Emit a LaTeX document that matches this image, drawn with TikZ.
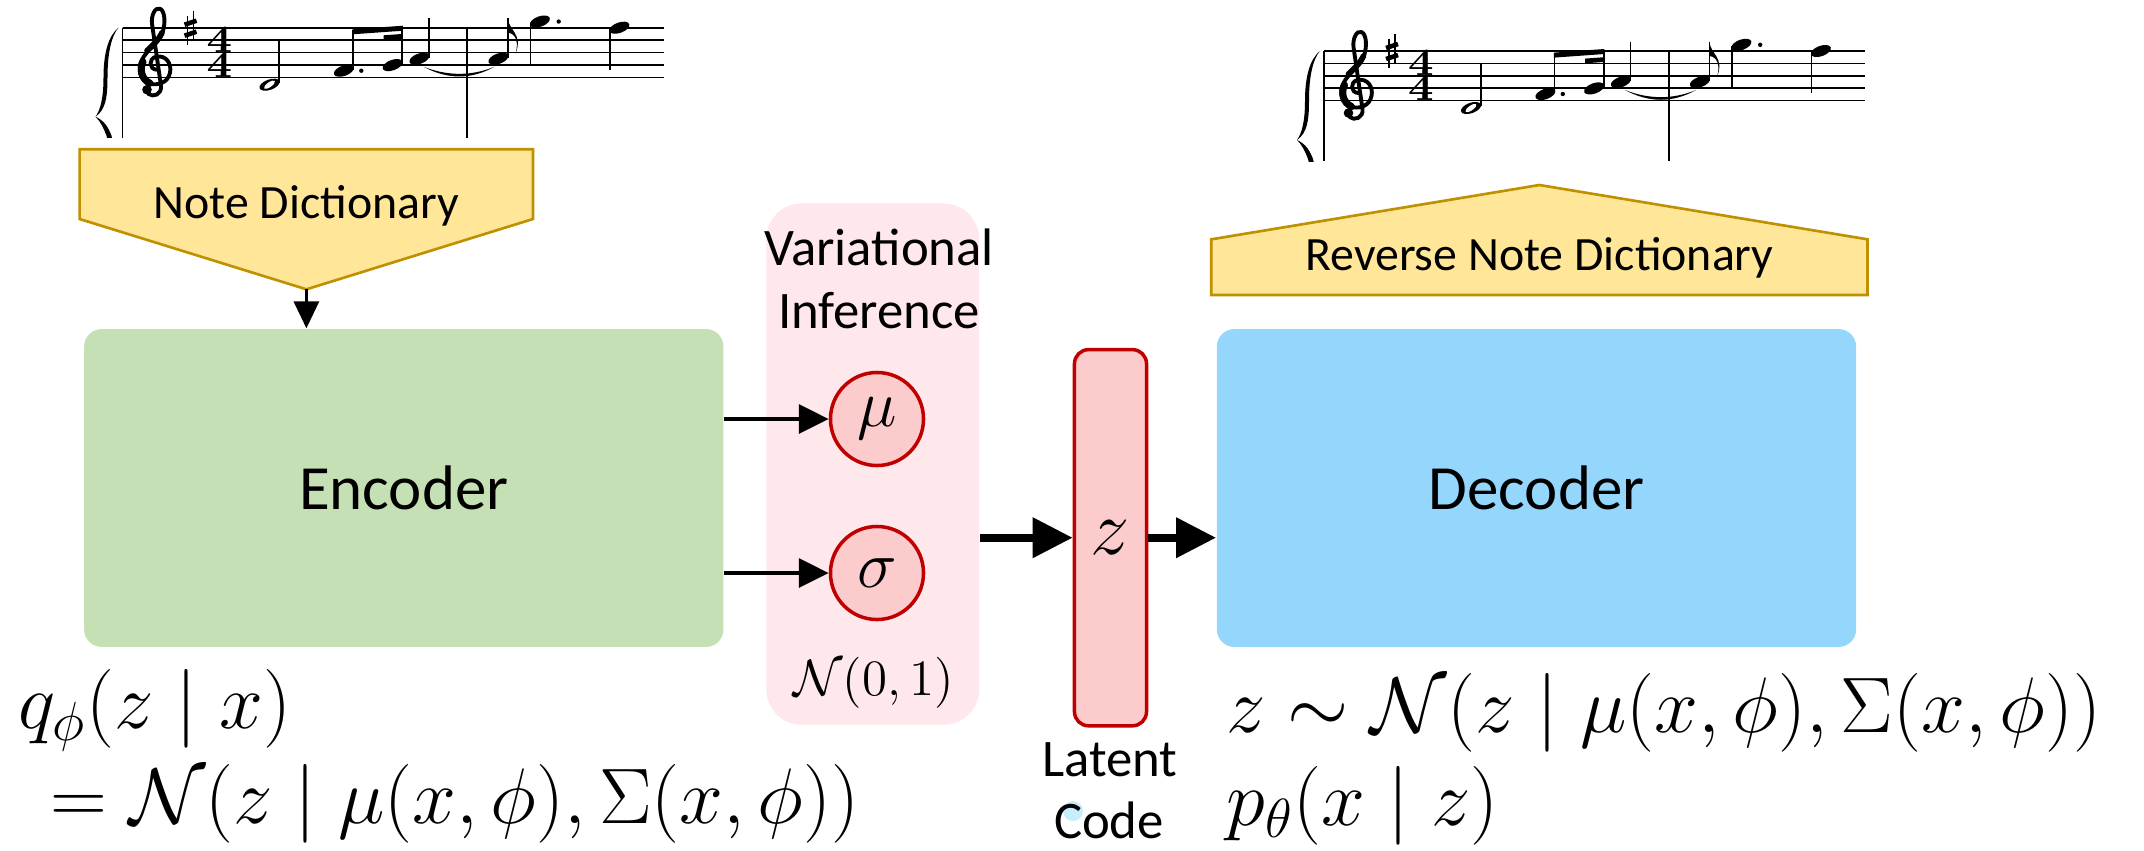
\RequirePackage{fix-cm}
\documentclass[tikz,border=0pt]{standalone}
\usepackage[no-math]{fontspec}
\usepackage{graphicx}
\setmainfont{Carlito}
\usetikzlibrary{arrows.meta}

\definecolor{dictfill}{HTML}{FFE699}
\definecolor{dictline}{HTML}{BF9000}
\definecolor{encfill}{HTML}{C5E0B4}
\definecolor{decfill}{RGB}{148,214,252}
\definecolor{vifill}{HTML}{FEE8EB}
\definecolor{zfill}{HTML}{FCCBCB}
\definecolor{zline}{HTML}{C00000}
\definecolor{dotblue}{HTML}{C8EDFC}

% filled note head, tilted
\newcommand{\nhead}[2]{\fill[rotate around={20:(#1,#2)}] (#1,#2) ellipse (10.5 and 5.2);}
% wide bold digit of the time signature
\newcommand{\tsdigit}{\scalebox{1.15}[1]{$\mathbf{4}$}}

% one staff of the melody; #1 = shift, #2 = name prefix
\newcommand{\musicstaff}[2]{%
\begin{scope}[shift={#1}]
  \foreach \k in {0,...,4} \draw[staffline] (0,{\k*12.4}) -- (541,{\k*12.4});
  \draw[barl] (0,0) -- (0,110);
  \draw[barl] (344.6,0) -- (344.6,110);
  % brace of the system
  \begin{scope}
    \clip (-40,-5) rectangle (-1,110);
    \fill (-4,0) .. controls (-14,8) and (-19,25) .. (-19,50)
          .. controls (-19,70) and (-22,82) .. (-27,89)
          .. controls (-17,82) and (-15,70) .. (-15,50)
          .. controls (-15,25) and (-11,8) .. (-4,0) -- cycle;
    \fill (-4,160) .. controls (-8,140) and (-13,120) .. (-16,108)
          .. controls (-19,100) and (-22,94) .. (-27,89)
          .. controls (-18,93) and (-14,100) .. (-11,108)
          .. controls (-8,120) and (-5,140) .. (-4,160) -- cycle;
  \end{scope}
  % treble clef
  \begin{scope}[shift={(33.5,0)}]
    \draw[line width=1.1pt, line cap=round, line join=round]
      (1,42) .. controls (-7,42) and (-8,31) .. (0,29)
      .. controls (10,27) and (16,36) .. (14,45)
      .. controls (12,55) and (2,58) .. (-6,56)
      .. controls (-16,53) and (-19,41) .. (-14,32)
      .. controls (-9,22) and (2,16) .. (6,6)
      .. controls (10,-4) and (9,-17) .. (4,-19)
      .. controls (-1,-21) and (-5,-12) .. (-4,-4)
      -- (5,58)
      .. controls (6,67) and (-3,70) .. (-8,66);
    \draw[line width=2pt, line cap=round] (-13,34) .. controls (-17,42) and (-14,52) .. (-6,55.5);
    \draw[line width=1.6pt, line cap=round] (-9,23) .. controls (-3,17) and (3,12) .. (6,5);
    \fill (-9,62) circle (4.8);
  \end{scope}
  % key signature: F sharp
  \draw[line width=0.45pt] (65,-12) -- (65,17) (71,-17) -- (71,12);
  \draw[line width=1.3pt] (62,-3) -- (74,-7) (62,8) -- (74,4);
  % time signature 4/4
  \node[inner sep=0, align=center, font=\fontsize{11}{11}\selectfont] (#2ts) at (97,24.8)
        {\tsdigit\\[-3.94pt]\tsdigit};
  % half note D4
  \nhead{147}{57}
  \fill[white, rotate around={35:(147,57)}] (147,57) ellipse (6.5 and 2.4);
  \draw[stem] (156.8,55) -- (156.8,12.3);
  % dotted eighth F#4 and sixteenth G4
  \nhead{221.4}{43}
  \draw[stem] (230.4,42) -- (230.4,2);
  \fill (238.8,43) circle (2.2);
  \nhead{270.1}{37.4}
  \draw[stem] (279.8,36) -- (279.8,-1);
  \fill (229.9,1.6) -- (280.3,-2) -- (280.3,3) -- (229.9,6.6) -- cycle;
  \fill (261,7.6) -- (280.3,6.2) -- (280.3,10.9) -- (261,12.3) -- cycle;
  % quarter A4, tied over the bar
  \nhead{296.9}{31}
  \draw[stem] (306.6,30) -- (306.6,-9.4);
  \fill (301,39) .. controls (325,52) and (349,52) .. (372,39)
        .. controls (349,48.5) and (325,48.5) .. (301,39) -- cycle;
  % eighth A4 with flag
  \nhead{375.9}{31}
  \draw[stem] (385.5,30) -- (385.5,-9.4);
  \fill (385.5,-9.4) .. controls (386,3) and (401,6) .. (393,26)
        .. controls (398,8) and (388,5) .. (385.5,5) -- cycle;
  % dotted quarter G5
  \nhead{417.4}{-6.2}
  \draw[stem] (407.9,-5) -- (407.9,37.3);
  \fill (436.2,-6.2) circle (2.2);
  % quarter F#5
  \nhead{496.9}{0}
  \draw[stem] (487.4,1) -- (487.4,42.3);
\end{scope}}

\tikzset{
  staffline/.style={line width=0.45pt},
  barl/.style={line width=0.55pt},
  stem/.style={line width=0.5pt},
  dict/.style={fill=dictfill, draw=dictline, line width=0.75pt, line join=miter},
  dicttext/.style={anchor=base, inner sep=0, font=\fontsize{13.6}{16}\selectfont},
  blk/.style={rounded corners=5pt, minimum width=6.39cm, minimum height=3.177cm,
              inner sep=0, font=\fontsize{17.9}{21}\selectfont},
  gauss/.style={circle, draw=zline, fill=zfill, line width=1pt, minimum size=0.93cm,
              inner sep=0, font=\fontsize{19}{19}\selectfont},
  label/.style={anchor=base, inner sep=0, font=\fontsize{15}{18}\selectfont},
  formula/.style={anchor=base west, inner sep=0, font=\fontsize{22.4}{26}\selectfont},
  arrS/.style={line width=1.4pt, -{Triangle[length=8.5pt,width=8.1pt]}},
  arrN/.style={line width=1pt, -{Triangle[length=7.7pt,width=7.1pt]}},
  arrB/.style={line width=2.3pt, -{Triangle[length=11.4pt,width=11pt]}},
}

\begin{document}
\begin{tikzpicture}[x=0.01cm, y=-0.01cm]
\useasboundingbox (0,0) rectangle (2144,850);

% melodies above encoder and decoder
\musicstaff{(122.5,27.7)}{in}
\musicstaff{(1324,51)}{out}

% note dictionary (input side)
\draw[dict] (79.6,149.3) -- (533,149.3) -- (533,219) -- (306.4,289.3) -- (79.6,219) -- cycle;
\node[dicttext] (nd) at (306.4,218.3) {Note Dictionary};
\coordinate (ndtip) at (306.4,289.3);

% reverse note dictionary (output side)
\draw[dict] (1211.3,295) -- (1211.3,239.3) -- (1539.4,185) -- (1867.5,239.3) -- (1867.5,295) -- cycle;
\node[dicttext] (rnd) at (1539.4,270) {Reverse Note Dictionary};

% encoder and decoder blocks
\node[blk, fill=encfill] (enc) at (403.8,488) {Encoder};
\node[blk, fill=decfill] (dec) at (1536.5,488) {Decoder};

% variational inference panel
\node[fill=vifill, rounded corners=10pt, minimum width=2.126cm, minimum height=5.21cm, inner sep=0] (vi) at (872.7,464.1) {};
\node[label] (vi1) at (879,265) {Variational};
\node[label] (vi2) at (879,328.6) {Inference};
\node[gauss] (mu) at (877,419) {$\mu$};
\node[gauss] (sig) at (877,573) {$\sigma$};
\node[anchor=base, inner sep=0, font=\fontsize{14.5}{14.5}\selectfont] (prior) at (873.6,695) {$\mathcal{N}(0,1)$};

% latent code
\node[draw=zline, fill=zfill, line width=1pt, rounded corners=4pt, minimum width=0.72cm,
      minimum height=3.76cm, inner sep=0, font=\fontsize{22.3}{22}\selectfont] (z) at (1110.5,537.7) {$z$};
\fill[dotblue] (1073,811) circle (10);
\node[label] (lat1) at (1110,776) {Latent};
\node[label] (lat2) at (1109,838) {Code};

% connectors
\draw[arrN] (ndtip) -- (ndtip |- enc.north);
\draw[arrS] (enc.east |- mu) -- (mu.west);
\draw[arrS] (enc.east |- sig) -- (sig.west);
\draw[arrB] (vi.east |- z) -- (z.west);
\draw[arrB] (z.east) -- (dec.west |- z.east);

% distributions
\node[formula] (q1) at (18,728.7) {$q_\phi(z\mid x)$};
\node[formula] (q2) at (50,823.7) {$=\mathcal{N}(z\mid \mu(x,\phi),\Sigma(x,\phi))$};
\node[formula] (p1) at (1226,732) {$z\sim\mathcal{N}(z\mid \mu(x,\phi),\Sigma(x,\phi))$};
\node[formula] (p2) at (1226,825.7) {$p_\theta(x\mid z)$};
\end{tikzpicture}
\end{document}
